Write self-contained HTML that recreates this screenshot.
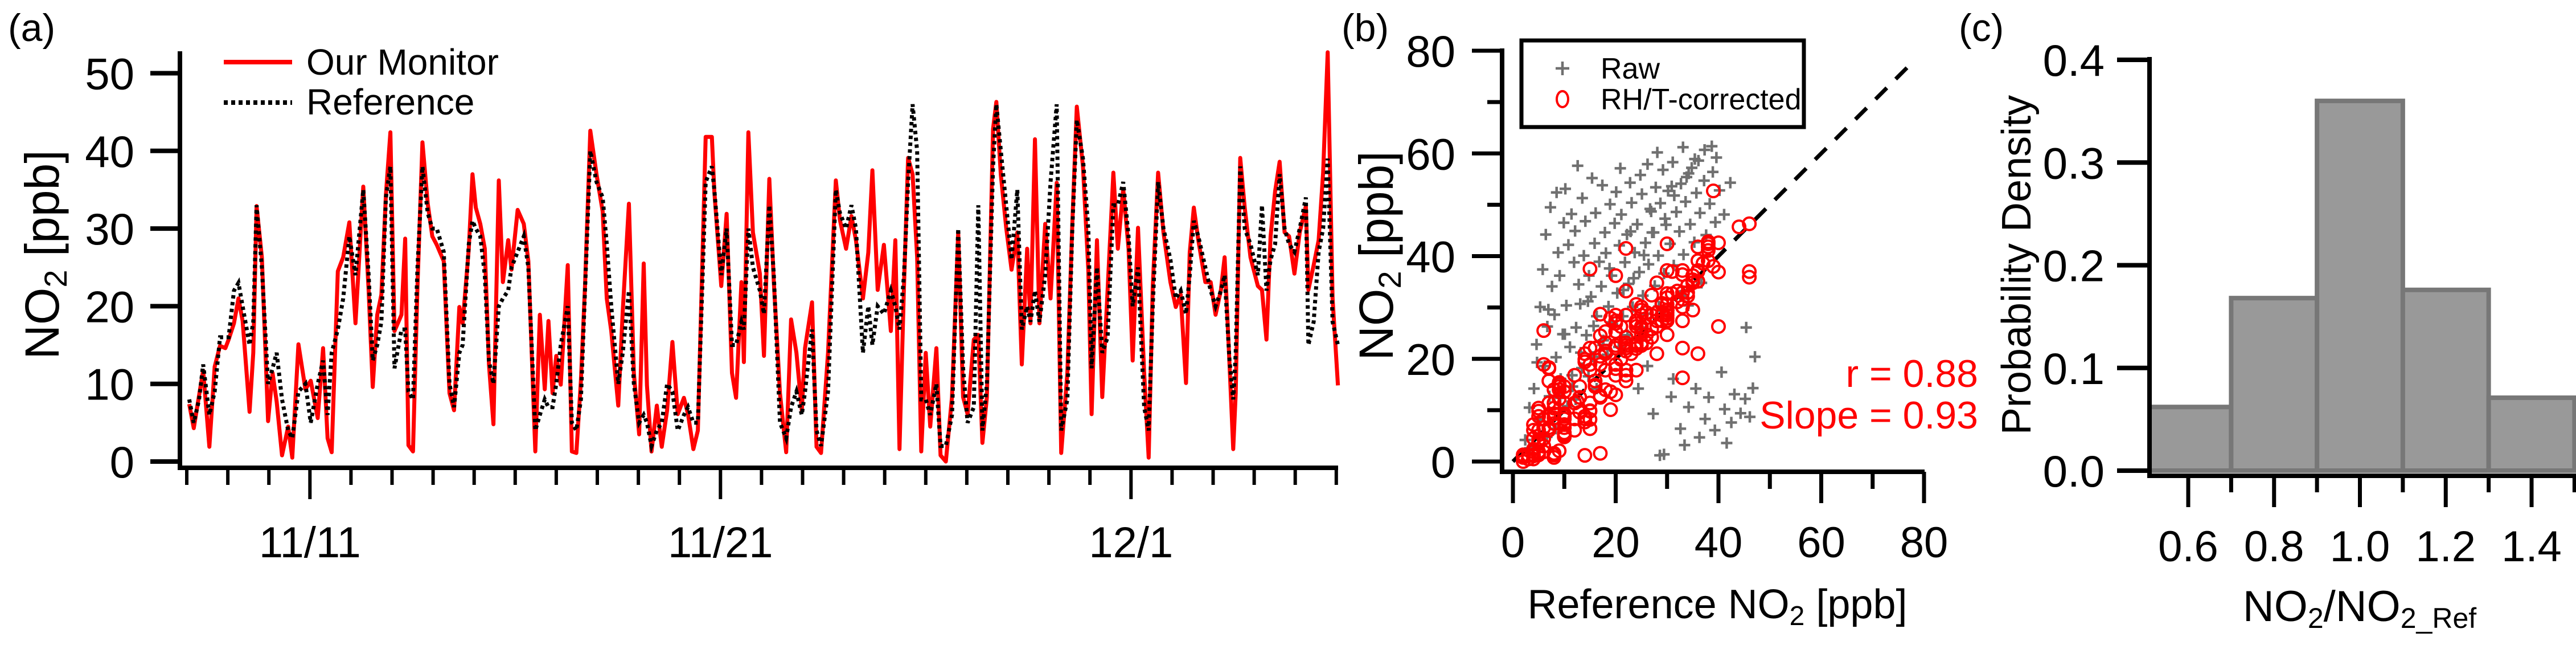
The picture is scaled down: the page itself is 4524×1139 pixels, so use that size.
<!DOCTYPE html>
<html><head><meta charset="utf-8"><style>
html,body{margin:0;padding:0;background:#fff}
svg{display:block;font-family:"Liberation Sans",Arial,sans-serif}
</style></head><body>
<svg id="fig" width="4524" height="1139" viewBox="0 0 4524 1139" xmlns="http://www.w3.org/2000/svg">
<g id="pa"></g>
<g id="pb"></g>
<g id="pc"></g>
</svg>
<script>
// ---------- Panel (a) data ----------
const tDays = [0.06,0.17,0.30,0.40,0.55,0.68,0.81,0.94,1.02,1.15,1.26,1.36,1.53,1.62,1.70,1.83,1.98,2.09,2.19,2.32,2.47,2.57,2.72,2.89,3.02,3.19,3.32,3.43,3.53,3.68,3.81,3.96,4.11,4.30,4.43,4.53,4.64,4.74,4.85,4.96,5.06,5.23,5.32,5.40,5.51,5.62,5.74,5.87,5.98,6.09,6.26,6.40,6.51,6.64,6.72,6.87,6.96,7.04,7.15,7.26,7.36,7.47,7.60,7.70,7.83,7.91,8.06,8.21,8.32,8.49,8.60,8.72,8.81,8.91,9.00,9.11,9.28,9.38,9.49,9.60,9.70,9.83,9.98,10.13,10.23,10.34,10.51,10.62,10.77,10.89,11.02,11.13,11.21,11.32,11.45,11.57,11.70,11.83,11.96,12.11,12.21,12.34,12.45,12.64,12.79,12.85,13.02,13.15,13.28,13.38,13.51,13.57,13.68,13.79,13.96,14.06,14.19,14.30,14.45,14.60,14.72,14.85,14.98,15.06,15.23,15.34,15.45,15.62,15.81,15.91,16.06,16.19,16.30,16.47,16.60,16.70,16.83,16.98,17.15,17.26,17.36,17.47,17.57,17.68,17.79,17.89,18.00,18.11,18.26,18.36,18.49,18.64,18.79,18.91,19.02,19.17,19.28,19.38,19.49,19.64,19.72,19.83,19.96,20.09,20.23,20.34,20.47,20.55,20.66,20.77,20.91,21.04,21.19,21.30,21.45,21.57,21.68,21.83,21.96,22.04,22.17,22.30,22.43,22.57,22.68,22.81,22.94,23.04,23.17,23.32,23.43,23.53,23.66,23.79,23.96,24.09,24.21,24.34,24.43,24.53,24.64,24.81,24.94,25.06,25.19,25.28,25.40,25.49,25.55,25.66,25.77,25.91,26.09,26.19,26.30,26.40,26.51,26.62,26.74,26.85,26.98,27.11,27.26,27.32,27.45,27.57,27.68,27.79,27.91,28.04];
const monitorNO2 = [7.4,4.3,8.5,11.7,1.9,12.2,14.9,14.6,15.7,17.8,21.0,18.1,6.4,14.0,32.9,26.3,5.2,11.4,7.7,0.8,4.5,0.5,15.1,9.3,10.4,5.6,14.6,3.0,1.2,24.5,26.3,30.8,17.8,35.4,22.0,9.6,18.9,21.5,34.3,42.4,16.8,18.9,28.7,2.1,1.3,22.6,41.1,33.2,29.0,27.9,25.8,8.8,6.6,19.9,17.8,27.4,37.0,32.7,30.6,27.4,12.5,4.8,36.2,23.1,28.5,24.7,32.4,30.6,25.8,1.3,18.9,9.3,18.1,8.8,13.6,9.9,25.3,1.3,1.1,10.4,22.6,42.6,37.0,32.2,21.0,16.8,7.2,19.4,33.2,11.4,3.5,25.5,9.8,1.3,7.2,1.9,6.6,15.4,6.1,8.2,6.1,1.6,4.0,41.8,41.8,34.8,22.6,31.9,11.4,8.2,23.1,12.8,42.4,29.5,24.2,13.6,36.4,23.1,8.8,1.2,18.3,14.0,6.6,14.6,20.5,1.9,1.1,14.0,36.2,31.1,27.4,31.6,28.5,21.0,26.9,37.5,22.1,27.9,16.8,28.5,1.6,22.6,39.1,37.0,26.3,1.3,14.0,4.5,14.6,0.8,0.0,8.3,29.5,8.3,6.1,15.7,16.3,2.4,8.3,42.8,46.3,36.9,30.1,24.7,29.5,12.5,27.4,17.8,41.5,17.8,30.6,21.0,35.9,1.1,11.4,30.6,45.7,38.0,24.7,6.1,28.5,8.3,22.1,37.2,27.4,35.1,27.4,13.0,30.1,11.4,0.5,22.6,37.2,29.5,23.1,19.9,21.5,10.1,26.9,32.7,28.5,23.1,23.1,18.9,22.1,26.3,12.5,1.6,8.8,39.1,32.7,26.3,22.6,22.1,15.7,29.0,34.8,38.6,29.5,29.0,24.2,29.5,32.9,22.1,25.3,28.5,37.2,52.7,21.0,9.8];
const referenceNO2 = [8,5,8,12.5,6,9,16,16,16,22,23,20,15,18,33,25,10,12,14,8,4,3,9,10,5,10,13,6,14,17,21,29,24,35,24,13,15,18,34,38,12,17,17,9,8,25,38,32,30,30,27,10,7,14,15,28,31,30,29,24,13,10,20,21,22,25,27,29,25,4,6,8,7,7,10,15,20,5,4,8,22,40,36,34,28,20,10,14,22,10,5,6,5,2,4,5,10,9,4,6,7,5,5,36,38,35,24,30,15,15,18,17,30,25,22,19,33,24,5,3,7,9,6,9,17,4,2,9,35,32,30,33,30,14,20,15,20,19,22,20,17,24,36,46,40,8,8,6,10,2,2,6,30,12,5,7,33,4,10,38,46,40,33,26,35,17,20,18,22,18,24,36,46,4,8,30,44,39,30,12,25,14,16,33,33,36,29,20,25,7,4,20,36,30,26,21,22,19,24,31,29,25,22,20,22,24,13,8,14,38,30,28,24,33,22,26,28,37,30,28,27,30,34,15,18,27,30,39,18,15];
const aYTicks = [0,10,20,30,40,50];
const aDateLabels = ["11/11","11/21","12/1"];
const aDateDays = [3,13,23];

// ---------- Panel (b) data ----------
const rawRef = [3.2,4.1,4.6,5.3,5.8,6.2,6.7,6.4,7.1,7.6,7.3,8.4,8.1,8.8,8.5,9.3,9.7,9.1,9.9,10.4,10.8,10.2,11.6,11.1,11.9,11.4,12.3,12.8,12.1,12.6,13.4,13.1,13.8,13.5,14.3,14.8,14.1,15.6,15.2,15.9,15.4,16.3,16.8,16.1,17.5,17.2,17.9,17.4,18.6,18.1,18.9,19.4,19.2,19.8,20.3,20.7,20.1,20.9,21.4,21.8,21.1,22.5,22.2,22.8,23.3,23.7,23.1,24.6,24.2,24.8,25.3,25.8,25.1,26.4,26.9,26.2,27.6,27.1,27.8,28.3,28.7,28.1,29.4,29.8,29.2,30.6,30.2,31.3,31.8,31.1,32.4,32.7,33.2,33.6,33.1,34.5,34.2,35.3,35.7,36.4,36.1,37.6,37.2,38.3,38.7,39.4,40.2,41.1,42.3,24.4,26.2,27.3,28.6,29.4,30.8,31.2,32.6,33.4,34.2,35.6,36.3,37.4,38.1,39.3,40.6,41.2,42.5,43.1,44.3,45.2,46.1,45.4,47.1,46.7,41.6,5.2,8.3,10.6,12.2,14.7,16.3,18.4,20.6,22.3,24.7,26.1,28.4,30.3,32.6,34.1,36.7,2.4,3.3,6.6,9.2,11.5,13.2,15.7,17.6,19.3,21.5,23.5,25.5,27.4,29.6,31.4,33.8,35.4,37.3,39.6,4.7,6.9,10.1,14.6,18.8,22.9,26.7,30.9,34.8,38.9];
const rawMon = [10.5,14.2,22.8,30.1,37.4,18.6,26.3,44.2,12.7,34.1,49.5,20.3,28.6,40.7,52.4,16.1,24.8,36.2,46.5,30.4,42.2,53.1,14.6,22.3,38.8,48.2,26.1,34.5,44.9,57.6,18.2,30.7,40.1,51.3,24.6,36.2,46.8,20.4,32.1,42.5,55.2,28.3,38.9,48.4,22.7,34.1,44.6,53.8,30.2,40.6,50.1,26.7,36.2,46.4,32.8,42.1,52.5,57.1,28.3,38.8,48.1,34.6,44.2,54.3,30.1,40.7,50.4,36.9,46.2,55.8,32.3,42.6,52.1,38.4,48.7,57.9,34.2,44.6,53.4,40.1,50.3,60.2,36.6,46.1,56.8,42.4,52.7,38.2,48.6,58.3,44.8,54.1,40.3,50.6,61.2,46.2,56.1,42.7,52.3,48.4,58.6,44.1,54.7,50.2,61.4,46.6,52.8,48.1,54.3,14.2,18.6,9.3,1.2,1.4,12.6,16.1,6.4,3.2,10.6,14.2,4.7,8.3,12.5,6.1,17.4,10.2,7.6,13.1,9.4,12.2,8.7,26.1,20.4,14.3,3.6,8.2,6.4,10.8,12.1,16.6,14.2,20.8,22.3,24.6,26.1,28.8,30.2,28.6,32.3,30.4,34.8,4.2,2.6,4.8,12.4,16.8,21.2,26.4,23.6,27.1,33.4,35.7,40.2,44.6,47.3,51.8,55.4,58.9,60.7,59.2,19.3,29.6,24.8,31.2,37.6,44.8,49.2,53.6,57.2,56.4];
const bTicks = [0,20,40,60,80];
const stats = ["r = 0.88","Slope = 0.93"];

// ---------- Panel (c) data ----------
const binEdges = [0.5,0.7,0.9,1.1,1.3,1.5];
const density = [0.062,0.168,0.36,0.176,0.071];
const cXTicks = [0.6,0.8,1.0,1.2,1.4];
const cYTicks = [0.0,0.1,0.2,0.3,0.4];

const NS="http://www.w3.org/2000/svg";
function mk(parent,tag,attrs,text){const e=document.createElementNS(NS,tag);for(const k in attrs)e.setAttribute(k,attrs[k]);if(text!==undefined)e.textContent=text;parent.appendChild(e);return e;}

// ================= Panel A =================
const pa=document.getElementById('pa');
const ax=d=>328+d*72.1, ay=v=>810-v*13.63;
let t=mk(pa,'text',{x:14,y:72,'font-size':68},'(a)');


let dRef=tDays.map((d,i)=>(i?'L':'M')+ax(d).toFixed(1)+' '+ay(referenceNO2[i]).toFixed(1)).join(' ');
let dMon=tDays.map((d,i)=>(i?'L':'M')+ax(d).toFixed(1)+' '+ay(monitorNO2[i]).toFixed(1)).join(' ');
let pm=mk(pa,'path',{d:dMon,fill:'none',stroke:'#ff0000','stroke-width':7,'stroke-linejoin':'round'});


let pr=mk(pa,'path',{d:dRef,fill:'none',stroke:'#000','stroke-width':7,'stroke-dasharray':'6 6'});


let yl=mk(pa,'line',{x1:316,y1:90,x2:316,y2:825,stroke:'#000','stroke-width':8});


let xl=mk(pa,'line',{x1:312,y1:821,x2:2350,y2:821,stroke:'#000','stroke-width':8});


aYTicks.forEach(v=>{
  let tk=mk(pa,'line',{x1:264,y1:ay(v),x2:316,y2:ay(v),stroke:'#000','stroke-width':8});
  
  
  let lb=mk(pa,'text',{x:236,y:ay(v)+28,'font-size':78,'text-anchor':'end'},String(v));
  
  
});
for(let d=0;d<=28;d++){
  const major=aDateDays.indexOf(d)>=0;
  let tk=mk(pa,'line',{x1:ax(d),y1:821,x2:ax(d),y2:major?876:851,stroke:'#000','stroke-width':6});
  
  
}
aDateLabels.forEach((s,i)=>{
  let lb=mk(pa,'text',{x:ax(aDateDays[i]),y:978,'font-size':76,'text-anchor':'middle'},s);
  
  
});
let yt=mk(pa,'text',{transform:'translate(103,447) rotate(-90)','font-size':84,'text-anchor':'middle'});


yt.innerHTML='NO<tspan font-size="56" dy="14">2</tspan><tspan dy="-14"> [ppb]</tspan>';
let lg=mk(pa,'g',{});


mk(lg,'line',{x1:393,y1:109,x2:513,y2:109,stroke:'#ff0000','stroke-width':8});
mk(lg,'text',{x:538,y:131,'font-size':64},'Our Monitor');
mk(lg,'line',{x1:393,y1:180,x2:513,y2:180,stroke:'#000','stroke-width':8,'stroke-dasharray':'7 6'});
mk(lg,'text',{x:538,y:201,'font-size':64},'Reference');

// ================= Panel B =================
const pb=document.getElementById('pb');
const bx=v=>2657+v*9.025, by=v=>810-v*9.0125;
t=mk(pb,'text',{x:2356,y:72,'font-size':68},'(b)');


let one=mk(pb,'line',{x1:bx(0),y1:by(0),x2:bx(78),y2:by(78),stroke:'#000','stroke-width':7,'stroke-dasharray':'28 22'});


rawRef.forEach((x,i)=>{
  const cx=bx(x),cy=by(rawMon[i]);
  let p=mk(pb,'path',{d:`M${cx-10} ${cy}H${cx+10}M${cx} ${cy-10}V${cy+10}`,stroke:'#707070','stroke-width':4.5});
  
  
});
referenceNO2.forEach((x,i)=>{
  let c=mk(pb,'circle',{cx:bx(x),cy:by(monitorNO2[i]),r:11,fill:'none',stroke:'#ff0000','stroke-width':4});
  
  
});
yl=mk(pb,'line',{x1:2638,y1:85,x2:2638,y2:832,stroke:'#000','stroke-width':8});


xl=mk(pb,'line',{x1:2634,y1:828,x2:3380,y2:828,stroke:'#000','stroke-width':8});


for(let v=0;v<=80;v+=10){
  const major=v%20===0;
  let tk=mk(pb,'line',{x1:major?2585:2612,y1:by(v),x2:2638,y2:by(v),stroke:'#000','stroke-width':7});
  
  
  let tx=mk(pb,'line',{x1:bx(v),y1:828,x2:bx(v),y2:major?883:858,stroke:'#000','stroke-width':7});
  
  
}
bTicks.forEach(v=>{
  let lb=mk(pb,'text',{x:2556,y:by(v)+28,'font-size':78,'text-anchor':'end'},String(v));
  
  
  let lx=mk(pb,'text',{x:bx(v),y:978,'font-size':76,'text-anchor':'middle'},String(v));
  
  
});
yt=mk(pb,'text',{transform:'translate(2446,449) rotate(-90)','font-size':84,'text-anchor':'middle'});


yt.innerHTML='NO<tspan font-size="56" dy="14">2</tspan><tspan dy="-14"> [ppb]</tspan>';
let xt=mk(pb,'text',{x:3016,y:1085,'font-size':72,'text-anchor':'middle'});


xt.innerHTML='Reference NO<tspan font-size="48" dy="12">2</tspan><tspan dy="-12"> [ppb]</tspan>';
stats.forEach((s,i)=>{
  let st=mk(pb,'text',{x:3474,y:679+i*73,'font-size':68,'text-anchor':'end',fill:'#ff0000'},s);
  
  
});
lg=mk(pb,'g',{});


mk(lg,'rect',{x:2672,y:71,width:496,height:152,fill:'#fff',stroke:'#000','stroke-width':7});
mk(lg,'path',{d:'M2732 120H2756M2744 108V132',stroke:'#707070','stroke-width':4.5});
mk(lg,'text',{x:2811,y:138,'font-size':52},'Raw');
mk(lg,'ellipse',{cx:2744,cy:174,rx:10,ry:14,fill:'none',stroke:'#ff0000','stroke-width':4});
mk(lg,'text',{x:2811,y:192,'font-size':52},'RH/T-corrected');

// ================= Panel C =================
const pc=document.getElementById('pc');
const cx=v=>3843+(v-0.6)*753.75, cy=v=>826-v*1802.5;
t=mk(pc,'text',{x:3440,y:72,'font-size':68},'(c)');


mk(pc,'clipPath',{id:'cclip'}).appendChild(document.createElementNS(NS,'rect'));
const cr=document.querySelector('#cclip rect');cr.setAttribute('x',3779);cr.setAttribute('y',0);cr.setAttribute('width',800);cr.setAttribute('height',1139);
density.forEach((h,i)=>{
  const x0=cx(binEdges[i]),x1=cx(binEdges[i+1]);
  let r=mk(pc,'rect',{x:x0,y:cy(h),width:x1-x0,height:cy(0)-cy(h),fill:'#999999',stroke:'#777777','stroke-width':8,'clip-path':'url(#cclip)'});
  
  
});
yl=mk(pc,'line',{x1:3775,y1:100,x2:3775,y2:839,stroke:'#000','stroke-width':8});


xl=mk(pc,'line',{x1:3771,y1:835,x2:4524,y2:835,stroke:'#000','stroke-width':8});


cYTicks.forEach(v=>{
  let tk=mk(pc,'line',{x1:3718,y1:cy(v),x2:3775,y2:cy(v),stroke:'#000','stroke-width':8});
  
  
  let lb=mk(pc,'text',{x:3696,y:cy(v)+28,'font-size':78,'text-anchor':'end'},v.toFixed(1));
  
  
});
cXTicks.forEach(v=>{
  let tk=mk(pc,'line',{x1:cx(v),y1:835,x2:cx(v),y2:890,stroke:'#000','stroke-width':7});
  
  
  let mt=mk(pc,'line',{x1:cx(v+0.1),y1:835,x2:cx(v+0.1),y2:864,stroke:'#000','stroke-width':7});
  
  
  let lb=mk(pc,'text',{x:cx(v),y:985,'font-size':76,'text-anchor':'middle'},v.toFixed(1));
  
  
});
yt=mk(pc,'text',{transform:'translate(3566,465) rotate(-90)','font-size':72,'text-anchor':'middle'},'Probability Density');


xt=mk(pc,'text',{x:4144,y:1090,'font-size':76,'text-anchor':'middle'});


xt.innerHTML='NO<tspan font-size="50" dy="12">2</tspan><tspan dy="-12">/NO</tspan><tspan font-size="50" dy="12">2_Ref</tspan>';
</script>
</body></html>
